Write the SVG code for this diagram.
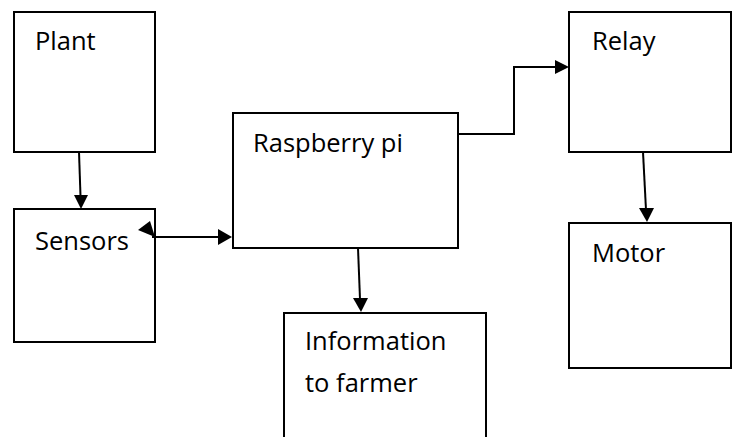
<svg xmlns="http://www.w3.org/2000/svg" width="732" height="437" viewBox="0 0 732 437">
<style>
.box{fill:#fff;stroke:#000;stroke-width:2}
.lbl{font-family:"Open Sans","Liberation Sans",sans-serif;font-size:25.5px;fill:#000}
.ln{fill:none;stroke:#000;stroke-width:2}
.hd{fill:#000;stroke:none}
</style>
<rect width="732" height="437" fill="#fff"/>
<g id="plant"><rect class="box" x="14" y="12" width="141" height="140"/><text class="lbl" x="35" y="50">Plant</text></g>
<g id="sensors"><rect class="box" x="14" y="209" width="141" height="133"/><text class="lbl" x="35" y="250">Sensors</text></g>
<g id="raspberry"><rect class="box" x="233" y="113" width="225" height="135"/><text class="lbl" x="253" y="152">Raspberry pi</text></g>
<g id="info"><path class="box" d="M284,440 V313 H486 V440"/><text class="lbl" x="305" y="350">Information</text><text class="lbl" x="305" y="392">to farmer</text></g>
<g id="relay"><rect class="box" x="569" y="12" width="162" height="140"/><text class="lbl" x="592" y="50">Relay</text></g>
<g id="motor"><rect class="box" x="569" y="223" width="162" height="145"/><text class="lbl" x="592" y="262">Motor</text></g>
<g id="connectors">
<path class="ln" d="M79,152 L80.5,196"/>
<polygon class="hd" points="74,195 88,195 81,209"/>
<path class="ln" d="M152,237 H219"/>
<polygon class="hd" points="218,229 218,245 232,237"/>
<polygon class="hd" points="138,230 150,221 155,237"/>
<path class="ln" d="M458,134 H514 V67 H556"/>
<polygon class="hd" points="555,60 555,74 569,67"/>
<path class="ln" d="M358,248 L360,299"/>
<polygon class="hd" points="353,298 368,298 361,312"/>
<path class="ln" d="M643,152 L646,210"/>
<polygon class="hd" points="639,208 654,208 647,222"/>
</g>
</svg>
